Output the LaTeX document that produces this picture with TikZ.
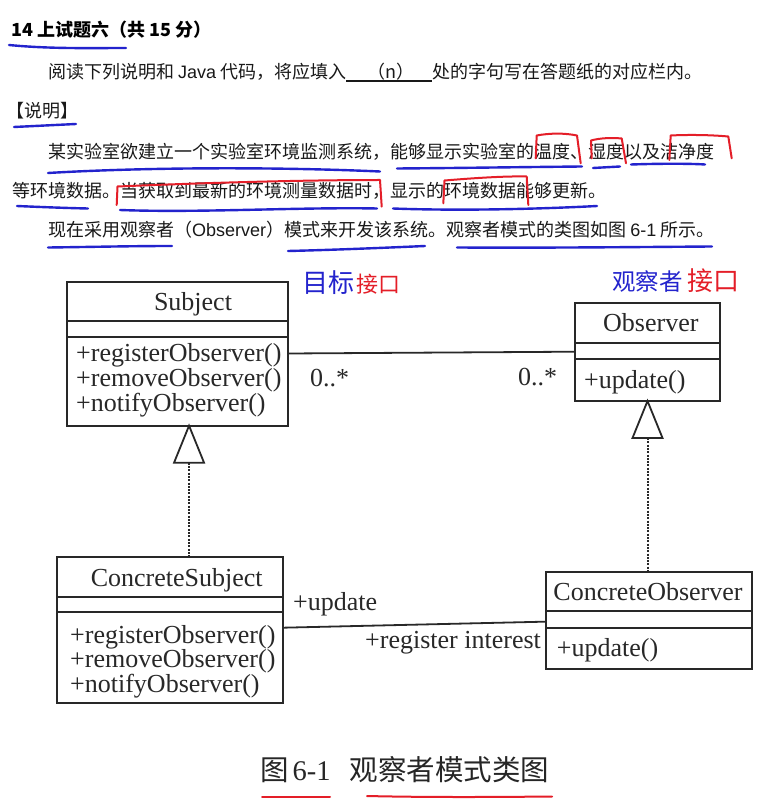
\documentclass[tikz,border=0pt]{standalone}
\usepackage{fontspec}
\newfontfamily\cjk{Noto Sans CJK SC}
\newfontfamily\uml{Liberation Serif}
\newfontfamily\lat{Liberation Sans}
\definecolor{bink}{RGB}{35,35,205}
\definecolor{rink}{RGB}{228,30,40}
\definecolor{ink}{RGB}{40,40,40}
\begin{document}
\begin{tikzpicture}[x=1pt,y=-1pt,
  body/.style={font=\cjk\fontsize{18}{20}\selectfont, text=black!90, inner sep=0pt, anchor=base west},
  umlt/.style={font=\uml\fontsize{26}{28}\selectfont, text=ink, inner sep=0pt},
  comp/.style={draw=ink, line width=1.8pt, anchor=north west, inner sep=0pt, outer sep=0pt},
  conn/.style={draw=ink, line width=1.8pt},
  dots/.style={draw=ink, line width=2pt, dash pattern=on 2pt off 1.3pt},
  tri/.style={draw=ink, line width=1.8pt, line join=miter, fill=white},
  blueink/.style={draw=bink, line width=2.4pt, line cap=round},
  redink/.style={draw=rink, line width=2pt, line cap=round, line join=round},
  handb/.style={font=\cjk\fontsize{24}{26}\selectfont, text=bink, inner sep=0pt, anchor=base west},
  handr/.style={font=\cjk\fontsize{24}{26}\selectfont, text=rink, inner sep=0pt, anchor=base west}]
\useasboundingbox (0,0) rectangle (782,799);
\fill[white] (0,0) rectangle (782,799);

% ---------- text block ----------
\node[body, font=\cjk\bfseries\fontsize{18}{20}\selectfont, text=black] (h1) at (11,36.5) {14 上试题六（共 15 分）};
\node[body] (l2a) at (48,79) {阅读下列说明和 {\lat Java} 代码，将应填入};
\node[body] (l2b) at (432,79) {处的字句写在答题纸的对应栏内。};
\node[body, anchor=base] (l2n) at (391,79) {（n）};
\draw[line width=1.3pt, black!90] ([yshift=-2pt]l2a.base east) -- ([yshift=-2pt]l2b.base west);
\node[body] (sm) at (6,118) {【说明】};
\node[body] (l4) at (48,159) {某实验室欲建立一个实验室环境监测系统，能够显示实验室的温度、湿度以及洁净度};
\node[body] (l5) at (12,198) {等环境数据。当获取到最新的环境测量数据时，显示的环境数据能够更新。};
\node[body] (l6) at (48,236.5) {现在采用观察者（{\lat Observer}）模式来开发该系统。观察者模式的类图如图 {\lat 6-1} 所示。};

% ---------- blue underlines ----------
\draw[blueink] (9,45) .. controls (50,49) and (90,48) .. (126,48);
\draw[blueink] (14,127) .. controls (35,126) and (55,125) .. (76,124);
\draw[blueink] (48,173) .. controls (150,167) and (280,167) .. (380,171.5);
\draw[blueink] (397,168.5) .. controls (460,168) and (530,167) .. (582,166.5);
\draw[blueink] (593,168) -- (620,166.5);
\draw[blueink] (631,164.5) .. controls (660,163.5) and (690,163.5) .. (705,164.5);
\draw[blueink] (17,206) .. controls (40,207) and (65,208) .. (88,208.5);
\draw[blueink] (120,210) .. controls (200,213) and (300,207) .. (377,208.5);
\draw[blueink] (393,208.5) .. controls (460,211) and (540,209) .. (597,206);
\draw[blueink] (48,247.5) .. controls (90,247) and (130,246) .. (172,246);
\draw[blueink] (288,251) .. controls (330,250) and (380,248) .. (425,246);
\draw[blueink] (457,247.5) .. controls (550,248) and (640,247) .. (712,246.5);

% ---------- red marks ----------
\draw[redink] (535.7,158.3) -- (536.7,135.5) .. controls (550,133) and (565,133) .. (577,135.5) -- (580.7,163.3);
\draw[redink] (591.7,158.3) -- (591,140.5) .. controls (600,138) and (612,137.5) .. (621.7,138.5) -- (626,163.3);
\draw[redink] (669.3,160) -- (670.7,135.5) .. controls (690,134.5) and (712,135) .. (728.3,136.5) -- (731.7,158.3);
\draw[redink] (116.7,205) -- (117.5,186.5) .. controls (200,183) and (300,180) .. (380,180) -- (381.7,206.7);
\draw[redink] (443.3,203.3) -- (444.5,180.5) .. controls (475,178) and (505,176) .. (526.7,176.5) -- (528.3,205);
\draw[redink] (262,797) -- (330,797);
\draw[redink] (367,796) .. controls (430,797.5) and (500,797) .. (552,796.5);

% ---------- handwritten notes ----------
\node[handb, font=\cjk\fontsize{26}{28}\selectfont] (n1a) at (302,292.5) {目标};
\node[handr, font=\cjk\fontsize{22}{24}\selectfont] (n1b) at (356,292.5) {接口};
\node[handb, font=\cjk\fontsize{23.5}{26}\selectfont] (n2a) at (612,290) {观察者};
\node[handr, font=\cjk\fontsize{26}{28}\selectfont] (n2b) at (687,290) {接口};

% ---------- Subject ----------
\node[comp, minimum width=221.3pt, minimum height=39pt] (subjN) at (66.7,281.7) {};
\node[comp, minimum width=221.3pt, minimum height=16.3pt] (subjA) at (subjN.south west) {};
\node[comp, minimum width=221.3pt, minimum height=88.7pt] (subjM) at (subjA.south west) {};
\node[umlt, anchor=base] (subjT) at (193,310) {Subject};
\node[umlt, anchor=base west] (sm1) at (76,361) {+registerObserver()};
\node[umlt, anchor=base west] (sm2) at (76,386) {+removeObserver()};
\node[umlt, anchor=base west] (sm3) at (76,411) {+notifyObserver()};

% ---------- Observer ----------
\node[comp, minimum width=145pt, minimum height=40pt] (obsN) at (575,302.7) {};
\node[comp, minimum width=145pt, minimum height=16pt] (obsA) at (obsN.south west) {};
\node[comp, minimum width=145pt, minimum height=42.3pt] (obsM) at (obsA.south west) {};
\node[umlt, anchor=base] (obsT) at (650.8,331.5) {Observer};
\node[umlt, anchor=base west] (om1) at (584,388.5) {+update()};

% ---------- ConcreteSubject ----------
\node[comp, minimum width=226pt, minimum height=40pt] (csN) at (56.7,556.7) {};
\node[comp, minimum width=226pt, minimum height=15pt] (csA) at (csN.south west) {};
\node[comp, minimum width=226pt, minimum height=91pt] (csM) at (csA.south west) {};
\node[umlt, anchor=base] (csT) at (176.7,586.5) {ConcreteSubject};
\node[umlt, anchor=base west] (cm1) at (70,643) {+registerObserver()};
\node[umlt, anchor=base west] (cm2) at (70,667.5) {+removeObserver()};
\node[umlt, anchor=base west] (cm3) at (70,692) {+notifyObserver()};

% ---------- ConcreteObserver ----------
\node[comp, minimum width=206pt, minimum height=39.3pt] (coN) at (545.7,571.7) {};
\node[comp, minimum width=206pt, minimum height=16.7pt] (coA) at (coN.south west) {};
\node[comp, minimum width=206pt, minimum height=41.6pt] (coM) at (coA.south west) {};
\node[umlt, anchor=base] (coT) at (648,600) {ConcreteObserver};
\node[umlt, anchor=base west] (com1) at (556.7,656.5) {+update()};

% ---------- associations ----------
\draw[conn] ([yshift=-16.5pt]subjM.north east) -- ([yshift=-1pt]obsA.west);
\draw[conn] ([yshift=-16pt]csM.north east) -- ([yshift=-2.3pt]coA.west);
\node[umlt, anchor=base west] (m1) at (310,386) {0..*};
\node[umlt, anchor=base west] (m2) at (518,385) {0..*};
\node[umlt, anchor=base west] (lu) at (293,610) {+update};
\node[umlt, anchor=base west] (lr) at (365,648) {+register interest};

% ---------- generalisations ----------
\coordinate (t1) at ([xshift=11.7pt]subjM.south);
\coordinate (t1b) at ([yshift=-37pt]t1);
\draw[dots] (t1b) -- (t1b |- csN.north);
\draw[tri] (t1) -- ++(-15,37) -- ++(30,0) -- cycle;
\coordinate (t2) at (obsM.south);
\coordinate (t2b) at ([yshift=-37pt]t2);
\draw[dots] (t2b) -- (t2b |- coN.north);
\draw[tri] (t2) -- ++(-15,37) -- ++(30,0) -- cycle;

% ---------- caption ----------
\node[body, font=\cjk\fontsize{28.5}{30}\selectfont, text=black!85] (cap) at (260,780.6) {图\hspace{4pt}{\uml 6-1}\hspace{19pt}观察者模式类图};
\end{tikzpicture}
\end{document}
